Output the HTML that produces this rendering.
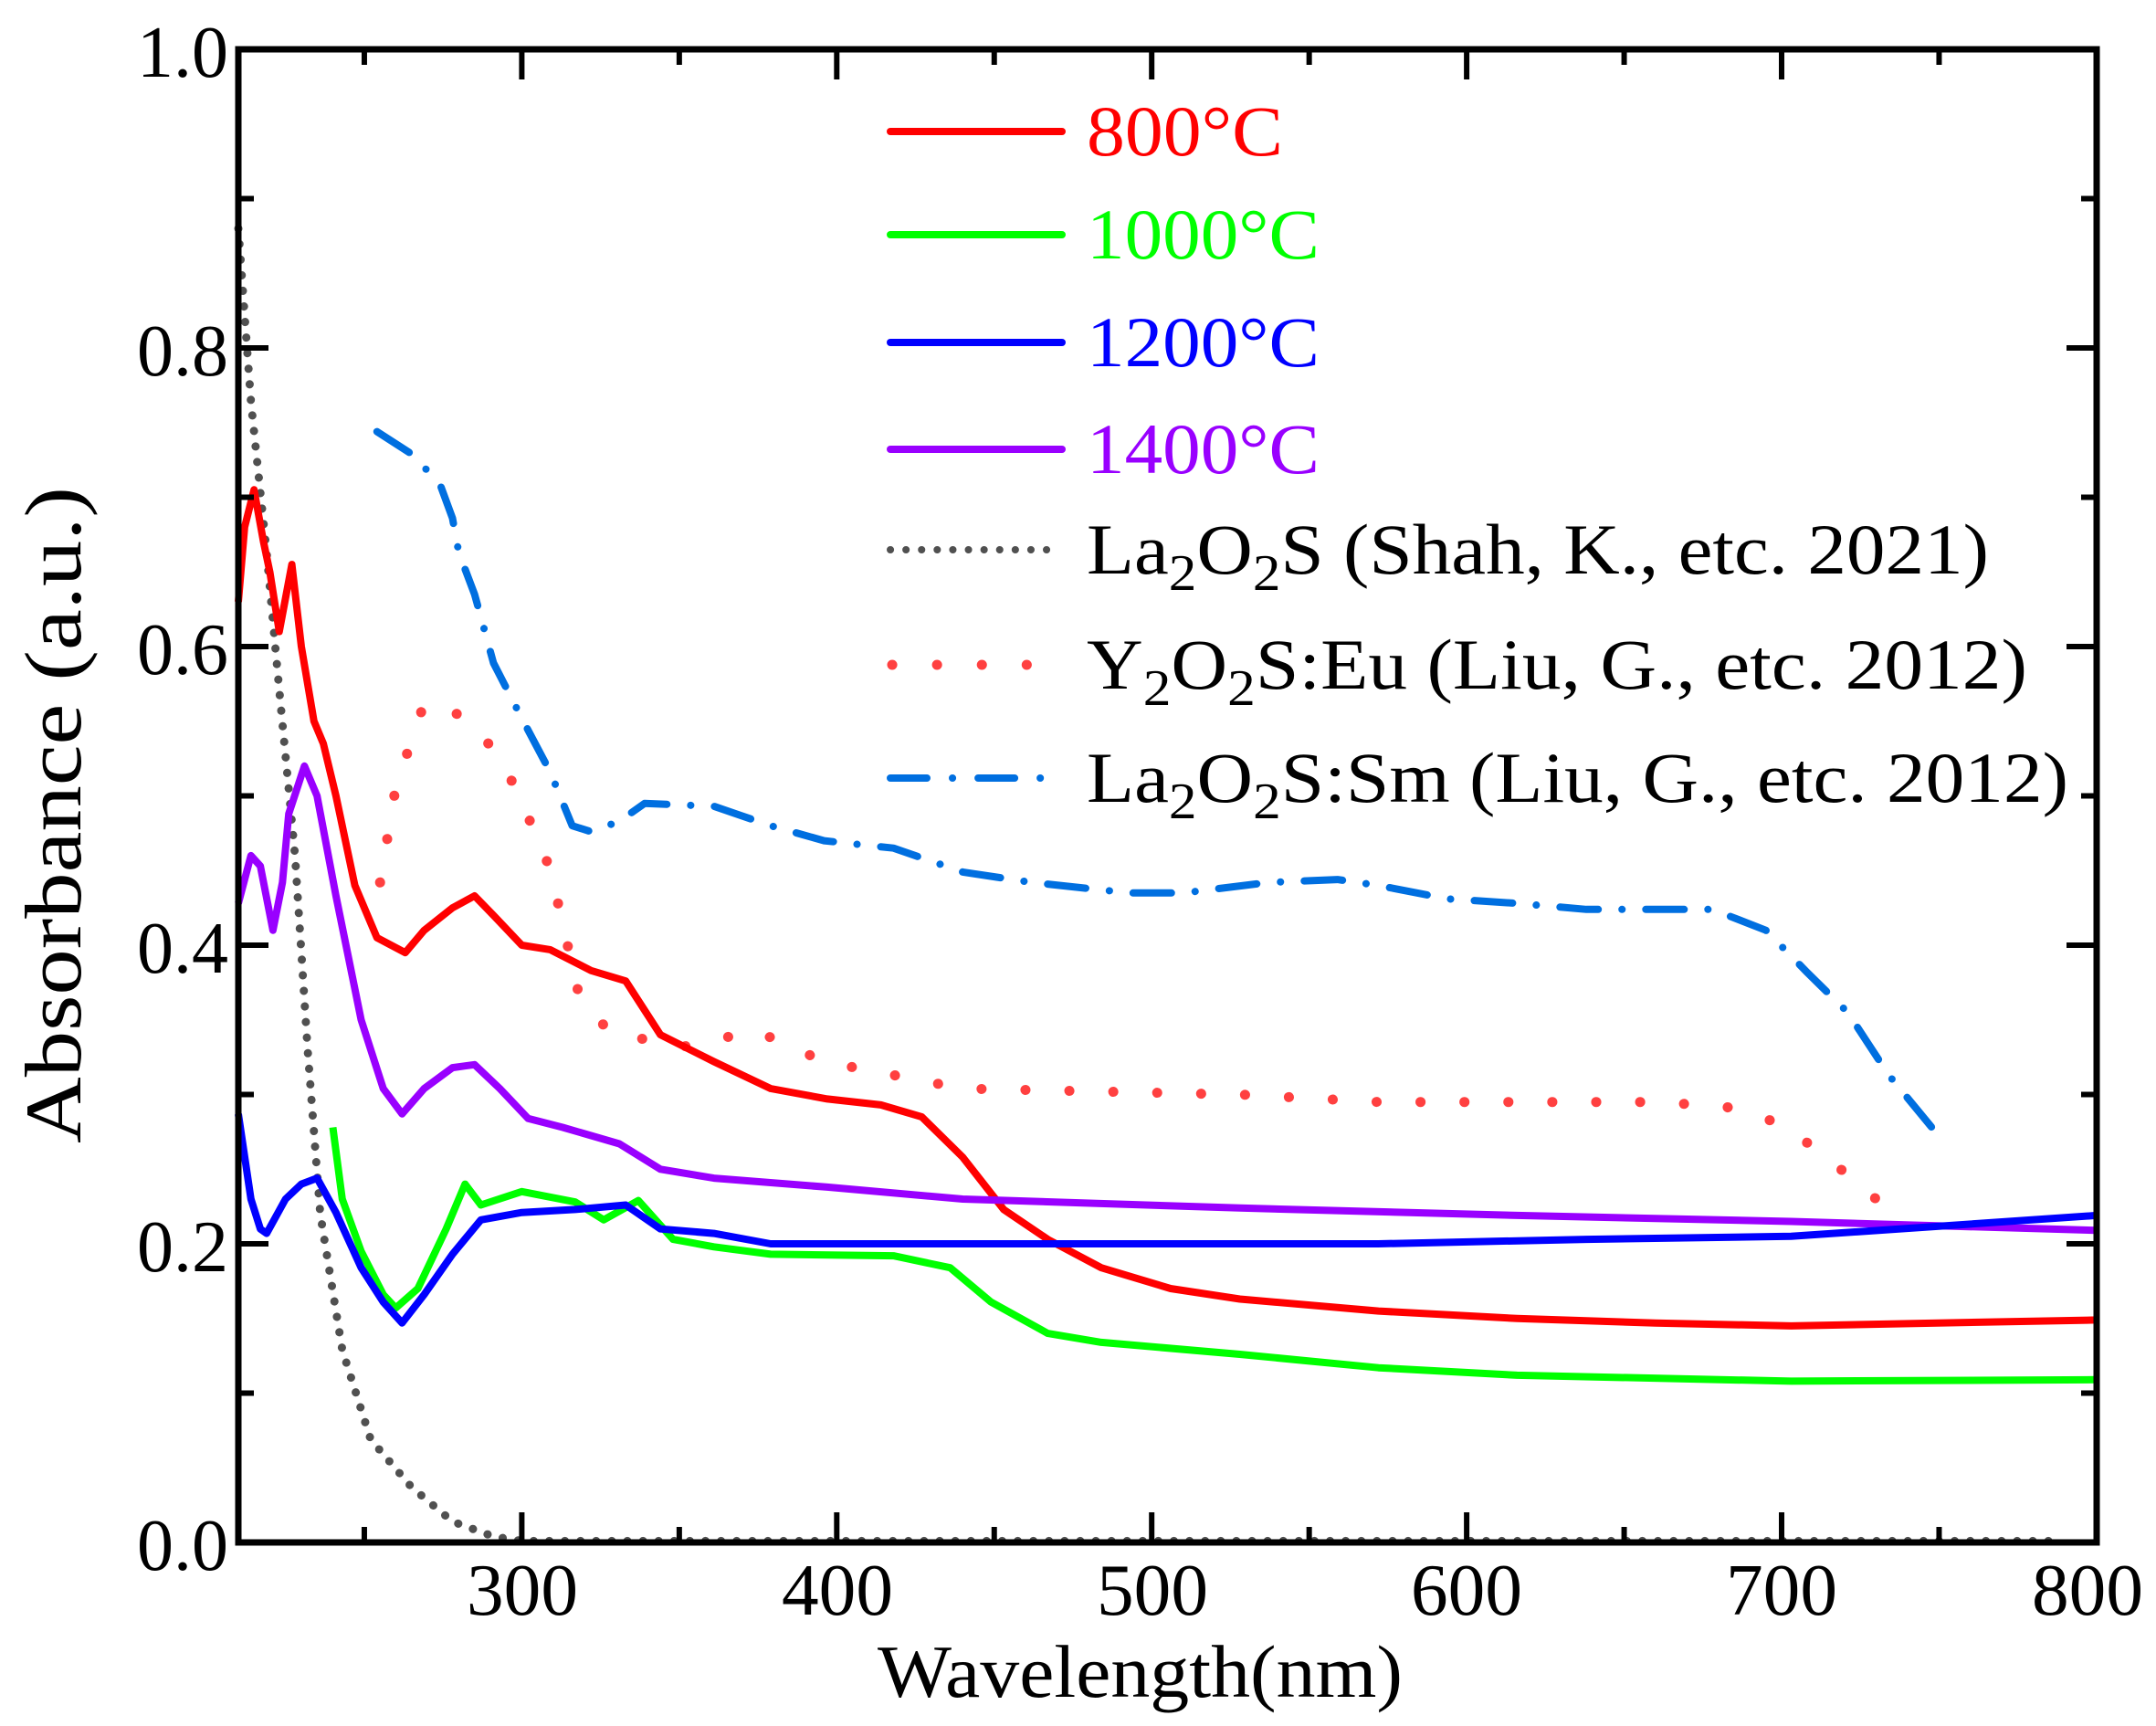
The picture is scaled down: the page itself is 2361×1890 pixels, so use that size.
<!DOCTYPE html>
<html><head><meta charset="utf-8"><style>
html,body{margin:0;padding:0;background:#fff;}
svg{display:block;}
svg text{font-family:"Liberation Serif","Times New Roman",Times,serif;}
</style></head><body>
<svg id="s" width="2361" height="1890" viewBox="0 0 2361 1890" xmlns="http://www.w3.org/2000/svg" font-family="Liberation Serif, Times New Roman, serif">
<g id="series" fill="none" stroke-linejoin="round"></g>
<g id="ticks" stroke="#000" stroke-width="6"></g>
<rect x="261" y="54" width="2035" height="1635" fill="none" stroke="#000" stroke-width="7"/>
<g font-size="80" fill="#000" text-anchor="end">
<text x="250" y="84" textLength="100" lengthAdjust="spacingAndGlyphs">1.0</text>
<text x="250" y="411" textLength="100" lengthAdjust="spacingAndGlyphs">0.8</text>
<text x="250" y="738" textLength="100" lengthAdjust="spacingAndGlyphs">0.6</text>
<text x="250" y="1065" textLength="100" lengthAdjust="spacingAndGlyphs">0.4</text>
<text x="250" y="1392" textLength="100" lengthAdjust="spacingAndGlyphs">0.2</text>
<text x="250" y="1719" textLength="100" lengthAdjust="spacingAndGlyphs">0.0</text>
</g>
<g font-size="80" fill="#000" text-anchor="middle">
<text x="572" y="1768" textLength="122" lengthAdjust="spacingAndGlyphs">300</text>
<text x="917" y="1768" textLength="122" lengthAdjust="spacingAndGlyphs">400</text>
<text x="1262" y="1768" textLength="122" lengthAdjust="spacingAndGlyphs">500</text>
<text x="1606" y="1768" textLength="122" lengthAdjust="spacingAndGlyphs">600</text>
<text x="1951" y="1768" textLength="122" lengthAdjust="spacingAndGlyphs">700</text>
<text x="2286" y="1768" textLength="122" lengthAdjust="spacingAndGlyphs">800</text>
</g>
<text x="961" y="1858" font-size="82" textLength="575" lengthAdjust="spacingAndGlyphs">Wavelength(nm)</text>
<text transform="translate(88,1252) rotate(-90)" font-size="88" textLength="719" lengthAdjust="spacingAndGlyphs">Absorbance (a.u.)</text>
<g stroke-width="8" stroke-linecap="round">
<line x1="975" y1="144" x2="1163" y2="144" stroke="#ff0000"/>
<line x1="975" y1="257" x2="1163" y2="257" stroke="#00ff00"/>
<line x1="975" y1="375" x2="1163" y2="375" stroke="#0000ff"/>
<line x1="975" y1="492" x2="1163" y2="492" stroke="#9900ff"/>
<line x1="975" y1="602" x2="1163" y2="602" stroke="#505050" stroke-width="8" stroke-dasharray="0.1 17"/>
<line x1="977" y1="728" x2="1130" y2="728" stroke="#ff4040" stroke-width="11" stroke-dasharray="0.1 49"/>
<line x1="975" y1="852" x2="1163" y2="852" stroke="#006fe0" stroke-dasharray="40 28 0.1 28"/>
</g>
<g font-size="78">
<text x="1190" y="170" fill="#ff0000" textLength="215" lengthAdjust="spacingAndGlyphs">800°C</text>
<text x="1190" y="283" fill="#00ff00" textLength="255" lengthAdjust="spacingAndGlyphs">1000°C</text>
<text x="1190" y="401" fill="#0000ff" textLength="255" lengthAdjust="spacingAndGlyphs">1200°C</text>
<text x="1190" y="518" fill="#9900ff" textLength="255" lengthAdjust="spacingAndGlyphs">1400°C</text>
<text x="1190" y="628" fill="#000" textLength="988" lengthAdjust="spacingAndGlyphs">La<tspan font-size="56" dy="18">2</tspan><tspan dy="-18">O</tspan><tspan font-size="56" dy="18">2</tspan><tspan dy="-18">S (Shah, K., etc. 2021)</tspan></text>
<text x="1190" y="754" fill="#000" textLength="1030" lengthAdjust="spacingAndGlyphs">Y<tspan font-size="56" dy="18">2</tspan><tspan dy="-18">O</tspan><tspan font-size="56" dy="18">2</tspan><tspan dy="-18">S:Eu (Liu, G., etc. 2012)</tspan></text>
<text x="1190" y="878" fill="#000" textLength="1075" lengthAdjust="spacingAndGlyphs">La<tspan font-size="56" dy="18">2</tspan><tspan dy="-18">O</tspan><tspan font-size="56" dy="18">2</tspan><tspan dy="-18">S:Sm (Liu, G., etc. 2012)</tspan></text>
</g>
</svg>
<script>
var NS="http://www.w3.org/2000/svg";
function X(w){return 261+(w-210)*3.449;}
function Y(a){return 1689-a*1635;}
function path(pts,attrs,parent){
 var d="";pts.forEach(function(p,i){d+=(i?"L":"M")+X(p[0]).toFixed(1)+" "+Y(p[1]).toFixed(1);});
 var e=document.createElementNS(NS,"path");e.setAttribute("d",d);
 for(var k in attrs)e.setAttribute(k,attrs[k]);(parent||document.getElementById("series")).appendChild(e);}
var gray=[[210,0.88],[214,0.764],[219,0.663],[223,0.571],[228,0.46],[232,0.33],[236,0.22],[243,0.129],[252,0.069],[265,0.037],[278,0.014],[291,0.004],[300,0.001],[787,0.001]];
var eu=[[255,0.442],[260,0.506],[269,0.562],[278,0.557],[287,0.543],[298,0.506],[309,0.451],[318,0.368],[328,0.341],[353,0.332],[374,0.343],[396,0.322],[440,0.304],[528,0.3],[572,0.295],[660,0.295],[682,0.292],[699,0.281],[712,0.262],[730,0.23]];
var sm=[[254,0.744],[265,0.729],[274,0.709],[278,0.686],[280,0.663],[285,0.635],[291,0.589],[300,0.552],[309,0.516],[316,0.48],[322,0.476],[331,0.483],[339,0.495],[361,0.493],[379,0.48],[396,0.47],[418,0.465],[440,0.449],[462,0.442],[493,0.435],[510,0.435],[537,0.442],[559,0.444],[572,0.44],[594,0.431],[616,0.428],[638,0.424],[678,0.424],[695,0.41],[708,0.382],[721,0.355],[734,0.313],[750,0.272]];
var red=[[210,0.63],[212,0.68],[215,0.705],[218,0.67],[220,0.65],[223,0.61],[227,0.655],[230,0.6],[234,0.55],[237,0.535],[241,0.5],[247,0.44],[254,0.405],[263,0.395],[269,0.41],[278,0.425],[285,0.433],[291,0.42],[300,0.4],[309,0.397],[322,0.383],[333,0.376],[344,0.34],[361,0.322],[379,0.304],[397,0.297],[414,0.293],[427,0.285],[440,0.258],[453,0.223],[467,0.203],[484,0.184],[506,0.17],[528,0.163],[572,0.155],[616,0.15],[660,0.147],[703,0.145],[800,0.149]];
var green=[[240,0.278],[243,0.23],[249,0.195],[256,0.166],[260,0.157],[267,0.17],[276,0.21],[282,0.24],[287,0.226],[300,0.235],[317,0.228],[326,0.216],[337,0.229],[348,0.203],[361,0.198],[379,0.193],[418,0.192],[436,0.184],[449,0.161],[467,0.14],[484,0.134],[528,0.126],[572,0.117],[616,0.112],[703,0.108],[800,0.109]];
var blue=[[210,0.287],[214,0.23],[217,0.21],[219,0.207],[225,0.23],[230,0.24],[235,0.244],[241,0.221],[249,0.184],[256,0.161],[262,0.147],[269,0.166],[278,0.193],[287,0.216],[300,0.221],[317,0.223],[333,0.226],[344,0.21],[361,0.207],[379,0.2],[440,0.2],[572,0.2],[638,0.203],[703,0.205],[800,0.219]];
var purple=[[210,0.428],[214,0.46],[217,0.453],[221,0.41],[224,0.442],[226,0.488],[231,0.52],[235,0.5],[241,0.433],[249,0.35],[256,0.304],[262,0.287],[269,0.304],[278,0.318],[285,0.32],[293,0.304],[302,0.284],[313,0.278],[331,0.267],[344,0.25],[361,0.244],[397,0.238],[440,0.23],[528,0.224],[616,0.219],[703,0.215],[800,0.209]];
path(gray,{stroke:"#505050","stroke-width":9,"stroke-linecap":"round","stroke-dasharray":"0.1 17"});
path(eu,{stroke:"#ff4040","stroke-width":11,"stroke-linecap":"round","stroke-dasharray":"0.1 48"});
path(sm,{stroke:"#006fe0","stroke-width":8,"stroke-linecap":"round","stroke-dasharray":"42 26 0.1 26"});
path(red,{stroke:"#ff0000","stroke-width":8});
path(purple,{stroke:"#9900ff","stroke-width":8});
path(green,{stroke:"#00ff00","stroke-width":8});
path(blue,{stroke:"#0000ff","stroke-width":8});
var t=document.getElementById("ticks");
function ln(x1,y1,x2,y2){var e=document.createElementNS(NS,"line");e.setAttribute("x1",x1);e.setAttribute("y1",y1);e.setAttribute("x2",x2);e.setAttribute("y2",y2);t.appendChild(e);}
for(var w=250;w<=800;w+=50){var x=X(w),L=(w%100==0)?33:17;ln(x,1689,x,1689-L);ln(x,54,x,54+L);}
for(var i=1;i<10;i++){var y=Y(i/10),L=(i%2==0)?33:17;ln(261,y,261+L,y);ln(2296,y,2296-L,y);}
</script>
</body></html>
